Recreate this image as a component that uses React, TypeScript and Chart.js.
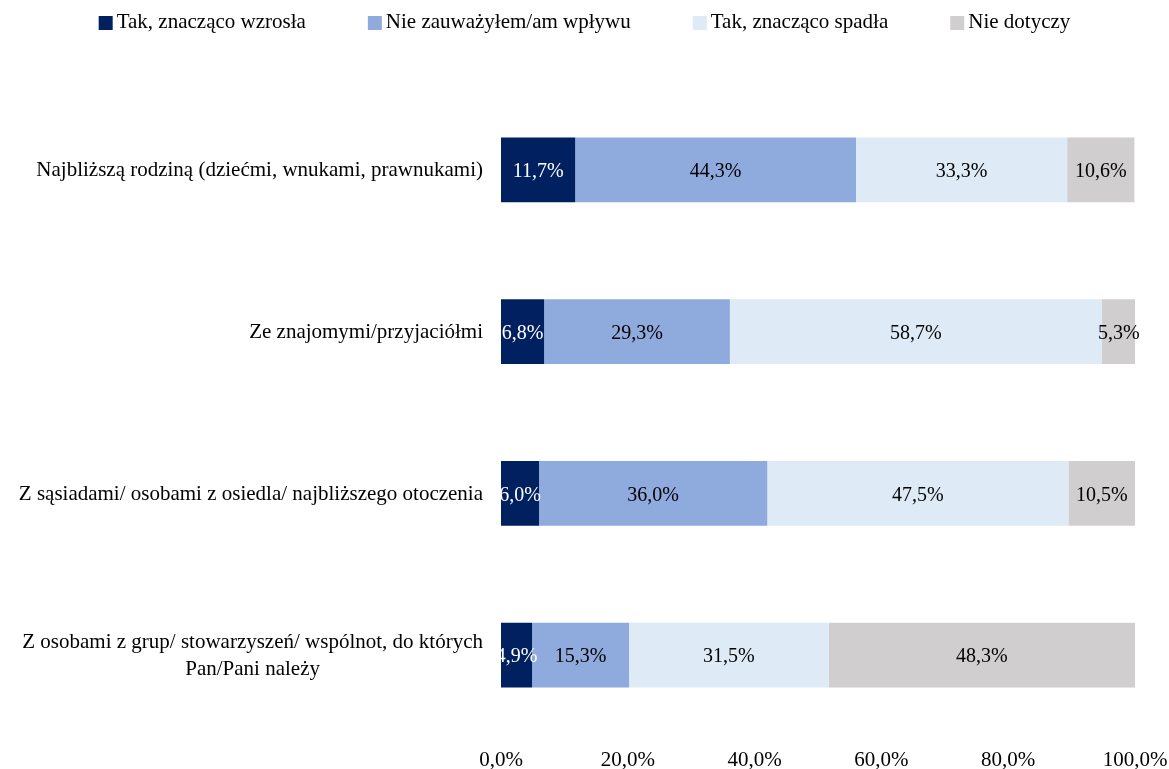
import React, { useEffect, useRef } from "react";
import { Chart, registerables } from "chart.js";

Chart.register(...registerables);

const FONT = '"Liberation Serif", "Times New Roman", serif';

const categories: string[][] = [
  ["Najbliższą rodziną (dziećmi, wnukami, prawnukami)"],
  ["Ze znajomymi/przyjaciółmi"],
  ["Z sąsiadami/ osobami z osiedla/ najbliższego otoczenia"],
  ["Z osobami z grup/ stowarzyszeń/ wspólnot, do których", "Pan/Pani należy"],
];
const seriesNames = [
  "Tak, znacząco wzrosła",
  "Nie zauważyłem/am wpływu",
  "Tak, znacząco spadła",
  "Nie dotyczy",
];
const increased = [11.7, 6.8, 6.0, 4.9];
const noEffect = [44.3, 29.3, 36.0, 15.3];
const decreased = [33.3, 58.7, 47.5, 31.5];
const notApplicable = [10.6, 5.3, 10.5, 48.3];
const xTickValues = [0, 20, 40, 60, 80, 100];

const colors = ["#002060", "#8FAADC", "#DEEBF7", "#D0CECE"];
const labelColors = ["#FFFFFF", "#000000", "#000000", "#000000"];

const fmt = (v: number) => v.toFixed(1).replace(".", ",") + "%";

const dataLabelPlugin = {
  id: "dataLabels",
  afterDatasetsDraw(chart: any) {
    const ctx = chart.ctx;
    ctx.save();
    ctx.font = `20px ${FONT}`;
    ctx.textAlign = "center";
    ctx.textBaseline = "middle";
    chart.data.datasets.forEach((ds: any, di: number) => {
      const meta = chart.getDatasetMeta(di);
      meta.data.forEach((el: any, i: number) => {
        const p = el.getProps(["x", "base", "y"], true);
        ctx.fillStyle = labelColors[di];
        ctx.fillText(fmt(ds.data[i]), (p.x + p.base) / 2, p.y + 2);
      });
    });
    ctx.restore();
  },
};

const categoryLabelPlugin = {
  id: "categoryLabels",
  afterDraw(chart: any) {
    const ctx = chart.ctx;
    const yScale = chart.scales.y;
    const right = chart.chartArea.left - 18;
    const lineH = 27;
    ctx.save();
    ctx.font = `21px ${FONT}`;
    ctx.textAlign = "center";
    ctx.textBaseline = "middle";
    ctx.fillStyle = "#000000";
    categories.forEach((lines, i) => {
      const yc = yScale.getPixelForValue(i);
      const maxW = Math.max(...lines.map((l) => ctx.measureText(l).width));
      const cx = right - maxW / 2;
      const y0 = yc - ((lines.length - 1) * lineH) / 2;
      lines.forEach((l, j) => ctx.fillText(l, cx, y0 + j * lineH + 1));
    });
    ctx.restore();
  },
};

const legendPlugin = {
  id: "topLegend",
  afterDraw(chart: any) {
    const ctx = chart.ctx;
    ctx.save();
    ctx.font = `21px ${FONT}`;
    ctx.textBaseline = "middle";
    ctx.textAlign = "left";
    const box = 14;
    const gapText = 4;
    const gapItem = 62;
    const widths = seriesNames.map((n) => ctx.measureText(n).width);
    const total =
      widths.reduce((a, w) => a + box + gapText + w, 0) +
      gapItem * (seriesNames.length - 1);
    let x = (chart.width - total) / 2;
    const y = 22;
    seriesNames.forEach((n, i) => {
      ctx.fillStyle = colors[i];
      ctx.fillRect(x, y - 6, box, box);
      ctx.fillStyle = "#000000";
      ctx.fillText(n, x + box + gapText, y);
      x += box + gapText + widths[i] + gapItem;
    });
    ctx.restore();
  },
};

export default function App() {
  const ref = useRef<HTMLCanvasElement | null>(null);

  useEffect(() => {
    if (!ref.current) return;
    const series = [increased, noEffect, decreased, notApplicable];
    const chart = new Chart(ref.current, {
      type: "bar",
      data: {
        labels: categories.map((c) => c.join(" ")),
        datasets: series.map((d, i) => ({
          label: seriesNames[i],
          data: d,
          backgroundColor: colors[i],
          borderWidth: 0,
          barPercentage: 0.4,
          categoryPercentage: 1,
        })),
      },
      plugins: [dataLabelPlugin, categoryLabelPlugin, legendPlugin],
      options: {
        indexAxis: "y",
        animation: false,
        responsive: true,
        maintainAspectRatio: false,
        layout: { padding: { left: 14, top: 89, right: 0, bottom: 0 } },
        plugins: {
          legend: { display: false },
          tooltip: { enabled: false },
          title: { display: false },
        },
        scales: {
          x: {
            stacked: true,
            min: 0,
            max: 100,
            afterBuildTicks: (scale: any) => {
              scale.ticks = xTickValues.map((v) => ({ value: v }));
            },
            afterFit: (scale: any) => {
              scale.height = 33;
              scale.paddingRight = 34;
              scale.paddingLeft = 0;
            },
            grid: { display: false, drawTicks: false },
            border: { display: false },
            ticks: {
              color: "#000000",
              font: { family: FONT, size: 21 },
              padding: 12,
              maxRotation: 0,
              callback: (v: any) => fmt(Number(v)),
            },
          },
          y: {
            stacked: true,
            afterFit: (scale: any) => {
              scale.width = 487;
            },
            grid: { display: false, drawTicks: false },
            border: { display: false },
            ticks: { display: false },
          },
        },
      } as any,
    });
    return () => chart.destroy();
  }, []);

  return (
    <div
      style={{
        position: "fixed",
        left: 0,
        top: 0,
        width: 1169,
        height: 769,
        background: "#ffffff",
      }}
    >
      <canvas ref={ref} />
    </div>
  );
}
